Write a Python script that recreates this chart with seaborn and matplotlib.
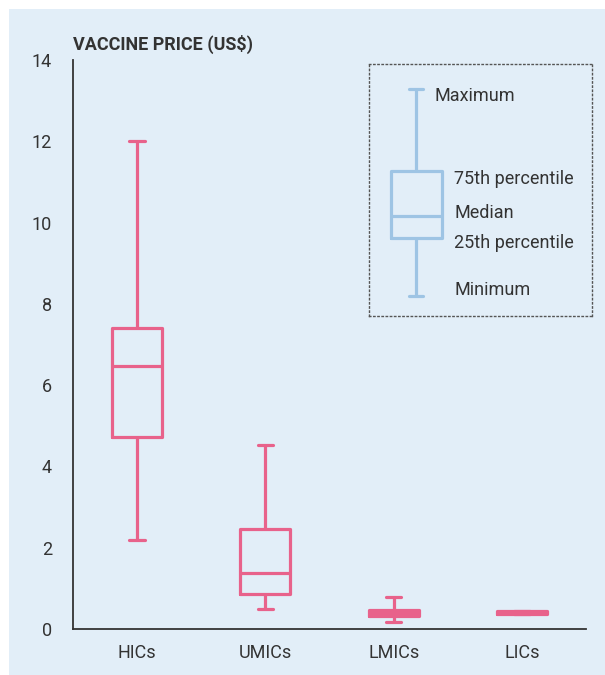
import matplotlib
matplotlib.use("Agg")
import matplotlib.pyplot as plt
from matplotlib.patches import Rectangle
import numpy as np
import pandas as pd
import seaborn as sns

########################################
# Data: five-number summaries (min, q1, median, q3, max)

groups = ["HICs", "UMICs", "LMICs", "LICs"]
hics = [2.18, 4.72, 6.48, 7.40, 12.0]
umics = [0.49, 0.85, 1.37, 2.47, 4.52]
lmics = [0.16, 0.32, 0.39, 0.46, 0.78]
lics = [0.38, 0.38, 0.41, 0.44, 0.44]
yticks = [0, 2, 4, 6, 8, 10, 12, 14]

# Key box (arbitrary units inside the legend frame)
key_values = [20, 78, 100, 145, 227]
key_labels = ["Minimum", "25th percentile", "Median", "75th percentile", "Maximum"]

########################################
# Style

pink = "#e8628b"
key_blue = "#9ec4e4"
bg = "#e2eef8"
ink = "#333333"

sns.set_style("white")
plt.rcParams["font.family"] = ["Roboto", "DejaVu Sans"]

df = pd.DataFrame(
    {
        "group": np.repeat(groups, 5),
        "price": hics + umics + lmics + lics,
    }
)

fig = plt.figure(figsize=(6.05, 6.75), dpi=100)
fig.patches.append(
    Rectangle((9 / 605, 0), 1, 1 - 9 / 675, transform=fig.transFigure,
              facecolor=bg, edgecolor="none", zorder=-10)
)

ax = fig.add_axes([73 / 605, 1 - 629 / 675, 513 / 605, 569 / 675])
ax.set_facecolor("none")

sns.boxplot(
    data=df, x="group", y="price", order=groups, whis=(0, 100),
    width=0.39, fill=False, color=pink, linewidth=2.3, capwidths=0.12,
    ax=ax,
)

ax.set_ylim(0, 14)
ax.set_xlim(-0.5, 3.5)
ax.set_yticks(yticks)
ax.set_xticks([-0.5, 0.5, 1.5, 2.5, 3.5])
ax.set_xticklabels([])
ax.set_xticks(range(len(groups)), minor=True)
ax.set_xticklabels(groups, minor=True)
ax.tick_params(axis="x", which="major", length=7, width=1.3, color=ink)
ax.tick_params(axis="x", which="minor", length=0, pad=11, labelsize=13, labelcolor=ink)
ax.tick_params(axis="y", length=7, width=1.3, color=ink, pad=8, labelsize=13, labelcolor=ink)
ax.set_xlabel("")
ax.set_ylabel("")
for side in ["top", "right"]:
    ax.spines[side].set_visible(False)
for side in ["left", "bottom"]:
    ax.spines[side].set_color(ink)
    ax.spines[side].set_linewidth(1.3)

fig.text(73 / 605, 1 - 44 / 675, "VACCINE PRICE (US$)", fontsize=13,
         fontweight="bold", color=ink, ha="left", va="center")

########################################
# Key explaining the box parts

kax = fig.add_axes([369 / 605, 1 - 316 / 675, 223 / 605, 252 / 675])
kax.set_facecolor("none")
sns.boxplot(y=key_values, whis=(0, 100), width=0.4, fill=False,
            color=key_blue, linewidth=2.3, capwidths=0.11, ax=kax)
kax.set_xlim(-0.369, 1.380)
kax.set_ylim(0, 252)
kax.set_xticks([])
kax.set_yticks([])
kax.set_xlabel("")
kax.set_ylabel("")
for s in kax.spines.values():
    s.set_visible(True)
    s.set_linestyle((0, (1, 2)))
    s.set_color("#555555")
    s.set_linewidth(1.0)

label_pos = {
    "Maximum": (0.141, 220),
    "75th percentile": (0.298, 137),
    "Median": (0.298, 103),
    "25th percentile": (0.298, 73),
    "Minimum": (0.298, 26),
}
for lab in key_labels:
    x, y = label_pos[lab]
    kax.text(x, y, lab, fontsize=13, color=ink, ha="left", va="center")

fig.savefig("out.png", dpi=100)
